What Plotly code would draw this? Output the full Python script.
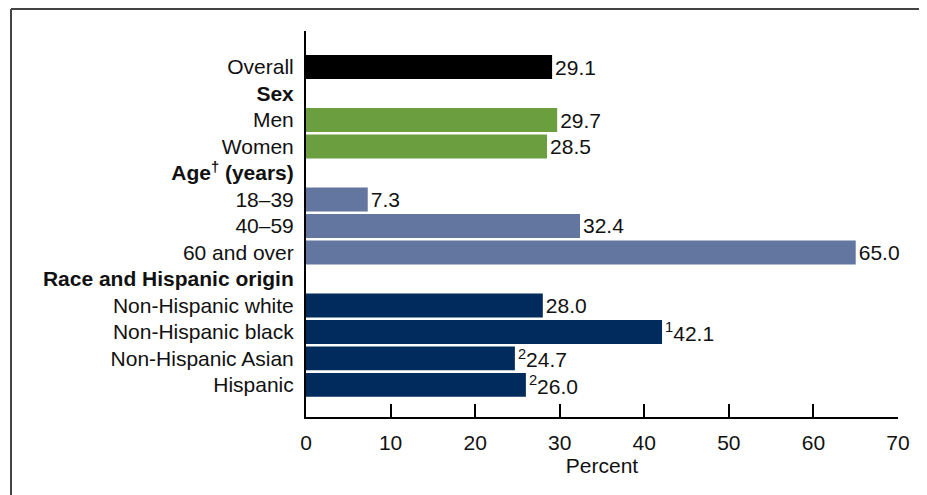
import plotly.graph_objects as go

categories = ["Overall", "<b>Sex</b>", "Men", "Women", "<b>Age<sup>†</sup> (years)</b>",
              "18–39", "40–59", "60 and over", "<b>Race and Hispanic origin</b>",
              "Non-Hispanic white", "Non-Hispanic black", "Non-Hispanic Asian", "Hispanic"]
values = [29.1, None, 29.7, 28.5, None, 7.3, 32.4, 65.0, None, 28.0, 42.1, 24.7, 26.0]
value_labels = ["29.1", "", "29.7", "28.5", "", "7.3", "32.4", "65.0", "",
                "28.0", "<sup>1</sup>42.1", "<sup>2</sup>24.7", "<sup>2</sup>26.0"]
group_colors = ["#000000", "#ffffff", "#6b9e3f", "#6b9e3f", "#ffffff",
                "#63769f", "#63769f", "#63769f", "#ffffff",
                "#002b5c", "#002b5c", "#002b5c", "#002b5c"]
x_ticks = [0, 10, 20, 30, 40, 50, 60, 70]

FONT = "Liberation Sans, Arial, sans-serif"

fig = go.Figure(go.Bar(
    x=values, y=categories, orientation="h",
    marker=dict(color=group_colors, line=dict(width=0)),
    width=0.9,
    text=value_labels, textposition="outside", cliponaxis=False,
    constraintext="none",
    textfont=dict(family=FONT, size=21, color="#111111"),
    hoverinfo="skip",
))

# page body adds an 8px offset, margins compensate for it
fig.update_layout(
    width=927, height=495,
    margin=dict(l=298, r=37, t=23, b=86),
    paper_bgcolor="white", plot_bgcolor="white",
    showlegend=False,
    font=dict(family=FONT, size=21, color="#111111"),
    shapes=[
        dict(type="line", xref="paper", yref="paper",
             x0=(11 - 306) / 592, x1=1.3, y0=(417 - 9) / 386, y1=(417 - 9) / 386,
             line=dict(color="#444444", width=2)),
        dict(type="line", xref="paper", yref="paper",
             x0=(11 - 306) / 592, x1=(11 - 306) / 592, y0=-0.4, y1=(417 - 9) / 386,
             line=dict(color="#444444", width=2)),
    ],
)

fig.update_yaxes(
    type="category", categoryorder="array", categoryarray=categories,
    range=[12 + 1.21, -1.36],
    showline=True, linecolor="#000000", linewidth=2,
    ticks="", showgrid=False, zeroline=False,
    ticklabelstandoff=6,
    tickfont=dict(family=FONT, size=21, color="#111111"),
)
fig.update_xaxes(
    range=[0, 70], tickvals=x_ticks, ticktext=[str(v) for v in x_ticks],
    showline=True, linecolor="#000000", linewidth=2,
    ticks="inside", ticklen=13, tickwidth=2, tickcolor="#000000",
    showgrid=False, zeroline=False,
    ticklabelstandoff=6,
    tickfont=dict(family=FONT, size=21, color="#111111"),
    title=dict(text="Percent", font=dict(family=FONT, size=21, color="#111111"), standoff=2),
)

fig.write_html("out.html")
